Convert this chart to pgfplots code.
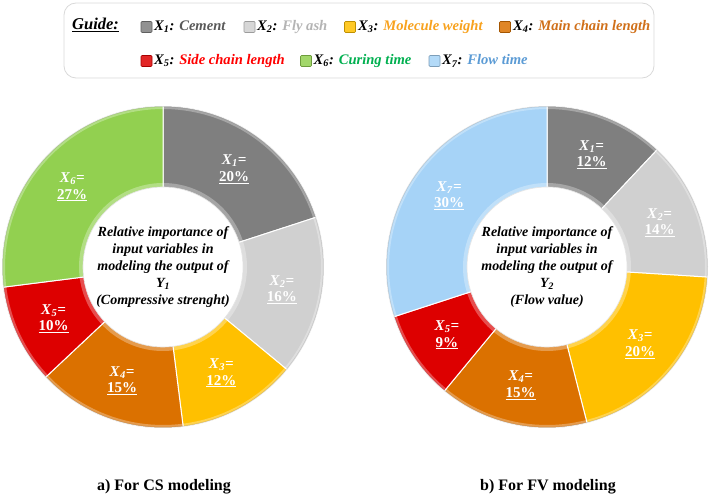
\documentclass[border=0pt]{standalone}
\usepackage{pgfplots}
\pgfplotsset{compat=1.18}
\usepackage{pgfplotstable}
\usepackage{fontspec}
\setmainfont{Liberation Serif}

\definecolor{cX1}{HTML}{7F7F7F}
\definecolor{cX2}{HTML}{D0D0D0}
\definecolor{cX3}{HTML}{FFC000}
\definecolor{cX4}{HTML}{DB7100}
\definecolor{cX5}{HTML}{DD0000}
\definecolor{cX6}{HTML}{92D050}
\definecolor{cX7}{HTML}{A6D3F7}
\definecolor{tX1}{HTML}{595959}
\definecolor{tX2}{HTML}{B4B4B4}
\definecolor{tX3}{HTML}{F8A21E}
\definecolor{tX4}{HTML}{D0701A}
\definecolor{tX5}{HTML}{FF0000}
\definecolor{tX6}{HTML}{00B050}
\definecolor{tX7}{HTML}{5B9BD5}

\pgfplotstableread{
var value color
1 20 cX1
2 16 cX2
3 12 cX3
4 15 cX4
5 10 cX5
6 27 cX6
}\tableCS
\pgfplotstableread{
var value color
1 12 cX1
2 14 cX2
3 20 cX3
4 15 cX4
5 9 cX5
7 30 cX7
}\tableFV

\newcommand\seclbl[2]{\textit{X}\textsubscript{\textit{#1}}\textit{=}\\\underline{#2\%}}

\newcommand\drawdonut[1]{%
  \pgfplotstablegetrowsof{#1}%
  \pgfmathtruncatemacro\nrows{\pgfplotsretval-1}%
  \def\cum{0}%
  \pgfplotsforeachungrouped \i in {0,...,\nrows}{%
    \pgfplotstablegetelem{\i}{value}\of{#1}\let\val\pgfplotsretval
    \pgfplotstablegetelem{\i}{color}\of{#1}\let\col\pgfplotsretval
    \pgfplotstablegetelem{\i}{var}\of{#1}\let\var\pgfplotsretval
    \pgfmathsetmacro\aS{90-3.6*\cum}%
    \pgfmathsetmacro\aE{90-3.6*(\cum+\val)}%
    \pgfmathsetmacro\aM{90-3.6*(\cum+\val/2)}%
    \pgfmathsetmacro\lx{121*cos(\aM)}%
    \pgfmathsetmacro\ly{121*sin(\aM)}%
    \edef\doit{%
      \noexpand\addplot[fill=\col, draw=white, line width=1.0pt, domain=\aE:\aS, samples=80, variable=\noexpand\t]
        ({161*cos(\noexpand\t)},{161*sin(\noexpand\t)}) -- (axis cs:0,0) -- cycle;
      \noexpand\node[seclabel] at (axis cs:\lx,\ly) {\noexpand\seclbl{\var}{\val}};
    }\doit
    \pgfmathsetmacro\cum{\cum+\val}%
  }%
  % bevel-like light rims
  \addplot[draw=white, draw opacity=0.3, line width=3pt, domain=0:360, samples=150, variable=\t] ({159.5*cos(\t)},{159.5*sin(\t)});
  \addplot[draw=black, draw opacity=0.12, line width=1pt, domain=0:360, samples=150, variable=\t] ({160.5*cos(\t)},{160.5*sin(\t)});
  \addplot[draw=white, draw opacity=0.3, line width=4pt, domain=0:360, samples=150, variable=\t] ({82*cos(\t)},{82*sin(\t)});
  \addplot[fill=white, draw=black!10, line width=0.6pt, domain=0:360, samples=150, variable=\t] ({80*cos(\t)},{80*sin(\t)}) -- cycle;
}

\tikzset{
  seclabel/.style={text=white, align=center, font=\fontsize{15}{16.5}\selectfont\bfseries},
  centerlbl/.style={align=center, font=\fontsize{14}{16.8}\selectfont\bfseries\itshape},
  lgsq/.style={minimum size=11pt, inner sep=0pt, rounded corners=1pt, fill=#1!85!white, draw=#1!75!black, line width=0.7pt},
  lgtx/.style={anchor=west, inner sep=0pt, font=\fontsize{14.6}{16}\selectfont\bfseries\itshape},
}

\begin{document}
\begin{tikzpicture}[x=1pt,y=1pt]
\useasboundingbox (0,0) rectangle (712,499);

% Legend box
\draw[rounded corners=12pt, draw=black!15, line width=0.8pt, fill=white] (64,421) rectangle (654,496);
\node[anchor=west, inner sep=0pt, font=\fontsize{16.5}{18}\selectfont\bfseries\itshape] at (72,474) {\underline{Guide:}};
% row 1
\node[lgsq=cX1] at (146.5,472) {};
\node[lgtx] at (154,472) {X\textsubscript{1}: \textcolor{tX1}{Cement}};
\node[lgsq=cX2] at (249.5,472) {};
\node[lgtx] at (257,472) {X\textsubscript{2}: \textcolor{tX2}{Fly ash}};
\node[lgsq=cX3] at (350,472) {};
\node[lgtx] at (358,472) {X\textsubscript{3}: \textcolor{tX3}{Molecule weight}};
\node[lgsq=cX4] at (505,472) {};
\node[lgtx] at (513,472) {X\textsubscript{4}: \textcolor{tX4}{Main chain length}};
% row 2
\node[lgsq=cX5] at (146.5,438) {};
\node[lgtx] at (154,438) {X\textsubscript{5}: \textcolor{tX5}{Side chain length}};
\node[lgsq=cX6] at (306,438) {};
\node[lgtx] at (313.5,438) {X\textsubscript{6}: \textcolor{tX6}{Curing time}};
\node[lgsq=cX7] at (434.5,438) {};
\node[lgtx] at (442,438) {X\textsubscript{7}: \textcolor{tX7}{Flow time}};

% Left donut
\begin{axis}[at={(163,232)}, anchor=origin, x=1pt, y=1pt,
  xmin=-165, xmax=165, ymin=-165, ymax=165, hide axis, clip=false]
  \drawdonut{\tableCS}
  \node[centerlbl] at (axis cs:0,0) {Relative importance of\\input variables in\\modeling the output of\\Y\textsubscript{1}\\(Compressive strenght)};
\end{axis}

% Right donut
\begin{axis}[at={(547,232)}, anchor=origin, x=1pt, y=1pt,
  xmin=-165, xmax=165, ymin=-165, ymax=165, hide axis, clip=false]
  \drawdonut{\tableFV}
  \node[centerlbl] at (axis cs:0,0) {Relative importance of\\input variables in\\modeling the output of\\Y\textsubscript{2}\\(Flow value)};
\end{axis}

\node[font=\fontsize{16}{18}\selectfont\bfseries] at (164,12) {a) For CS modeling};
\node[font=\fontsize{16}{18}\selectfont\bfseries] at (548,12) {b) For FV modeling};
\end{tikzpicture}
\end{document}
